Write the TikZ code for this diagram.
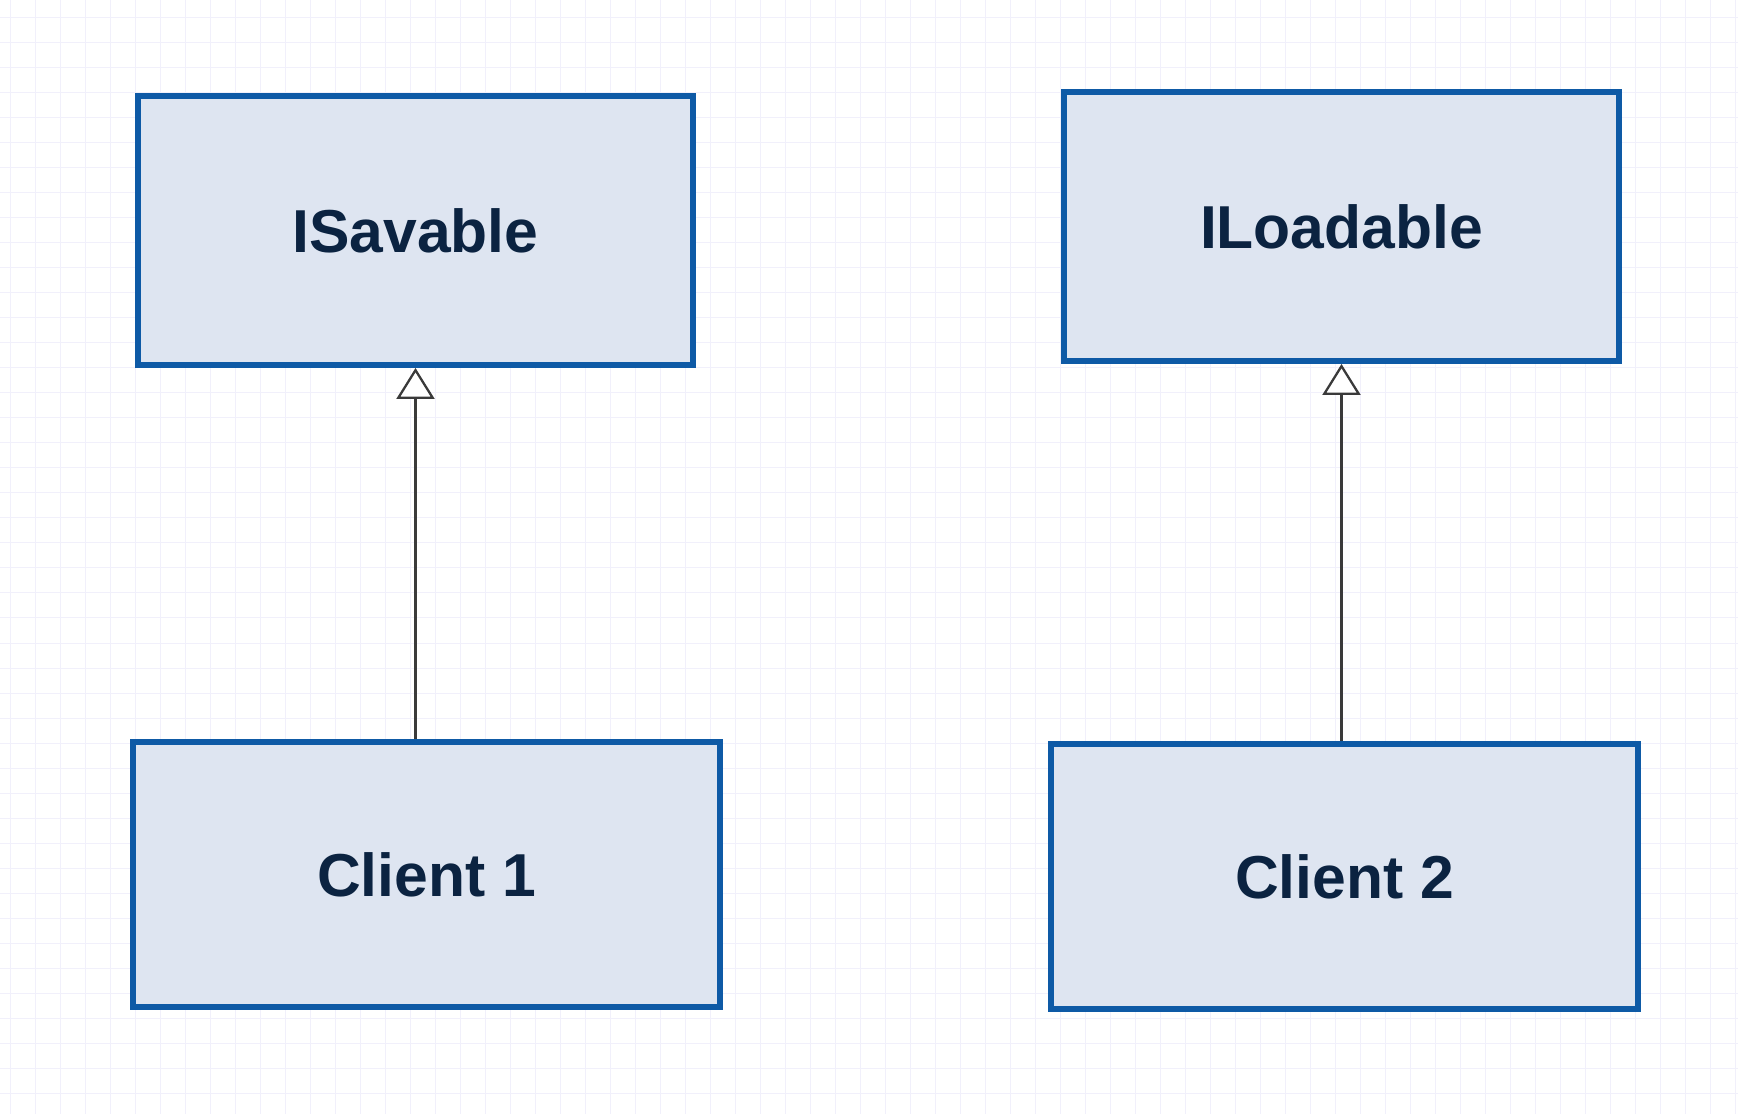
\documentclass[tikz,border=0pt]{standalone}
\usepackage{fontspec}
\setmainfont{Liberation Sans}
\usetikzlibrary{arrows.meta}

\definecolor{fondboite}{HTML}{DEE5F1}
\definecolor{bordboite}{HTML}{0E5AA6}
\definecolor{texteboite}{HTML}{0B2341}
\definecolor{traitgris}{HTML}{3A3A3A}
\definecolor{grille}{HTML}{F1F0FB}

\begin{document}
\begin{tikzpicture}[x=0.02cm,y=-0.02cm,
  boite/.style={draw=bordboite,fill=fondboite,line width=0.11cm,
    font=\fontsize{34.5}{41}\selectfont\bfseries,text=texteboite},
  herit/.style={draw=traitgris,line width=1.3pt,
    -{Triangle[open,fill=white,length=0.62cm,width=0.76cm]}},
  trait grille/.style={draw=grille,line width=0.02cm}]

\useasboundingbox (0,0) rectangle (1738,1114) ;
\fill[white] (0,0) rectangle (1738,1114) ;

% grille de fond

\foreach \x in {10,35,...,1735} \draw[trait grille] (\x,0) -- (\x,1114) ;
\foreach \y in {18,43,...,1110} \draw[trait grille] (0,\y) -- (1738,\y) ;

% interfaces

\node[boite,minimum width=11.1cm,minimum height=5.39cm] (sav) at (415.5,230.5) {ISavable} ;
\node[boite,minimum width=11.1cm,minimum height=5.39cm] (load) at (1341.5,226.5) {ILoadable} ;

% clients

\node[boite,minimum width=11.74cm,minimum height=5.31cm] (cl1) at (426.5,874.5) {Client 1} ;
\node[boite,minimum width=11.74cm,minimum height=5.31cm] (cl2) at (1344.5,876.5) {Client 2} ;

% traits d'héritage

\draw[herit] (cl1.north -| sav.south) -- (sav.south) ;
\draw[herit] (cl2.north -| load.south) -- (load.south) ;

\end{tikzpicture}
\end{document}
